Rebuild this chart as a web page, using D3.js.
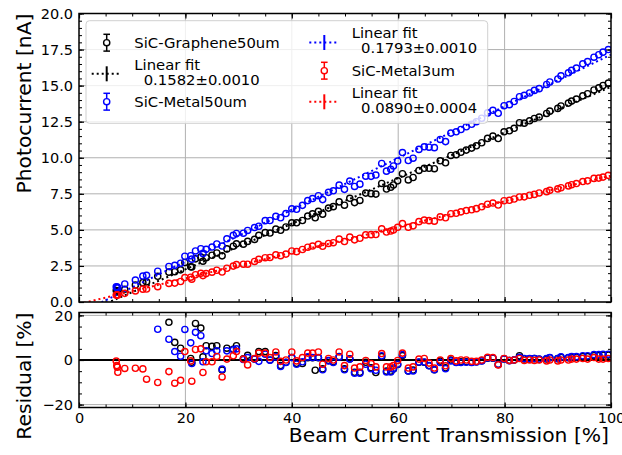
<!DOCTYPE html>
<html>
<head>
<meta charset="utf-8">
<script src="https://cdn.jsdelivr.net/npm/d3@7"></script>
<style>
  body { margin: 0; background: #fff; }
  text { font-family: "DejaVu Sans", sans-serif; fill: #000; }
</style>
</head>
<body>
<div id="chart"></div>
<script>
// beam current transmission [%]
const transmission = [7.0, 7.1, 7.2, 7.3, 8.6, 10.6, 12.0, 12.7, 14.8, 16.9, 18.0, 19.1, 19.9, 21.0, 21.2, 21.9, 22.9, 23.3, 23.9,
  25.0, 25.9, 26.9, 27.8, 29.0, 29.6, 30.9, 31.7, 33.0, 33.8, 35.0, 35.9, 37.0, 37.9, 38.9, 40.0, 40.9, 42.0, 43.0, 43.9, 44.4,
  45.0, 45.8, 46.9, 47.8, 48.9, 49.9, 50.9, 51.8, 52.8, 53.9, 54.9, 55.8, 56.9, 57.8, 58.6, 59.1, 59.9, 60.8, 61.9, 62.8, 63.9,
  64.9, 65.8, 66.8, 67.9, 68.9, 69.9, 70.9, 71.8, 72.8, 73.8, 74.7, 75.7, 76.8, 77.8, 78.8, 79.9, 80.9, 81.8, 82.8, 83.7, 84.7,
  85.6, 86.5, 87.9, 88.5, 90.0, 90.6, 92.0, 92.6, 93.5, 94.7, 95.6, 96.8, 97.7, 98.5, 99.5];

// photocurrent [nA]
const graphene50 = [0.80, 0.74, 0.78, 0.70, 0.88, 1.18, 1.34, 1.40, 1.78, 2.07, 2.10, 2.23, 2.74, 2.44, 2.43, 2.99, 3.11, 2.83, 3.07,
  3.24, 3.40, 3.20, 3.68, 3.87, 4.03, 4.01, 4.20, 4.34, 4.62, 4.81, 4.78, 5.05, 4.97, 5.20, 5.49, 5.49, 5.65, 5.96, 6.11, 5.84,
  6.28, 6.09, 6.51, 6.61, 6.94, 6.71, 7.19, 6.89, 7.04, 7.55, 7.51, 7.48, 8.22, 7.83, 7.95, 8.11, 8.40, 8.89, 8.46, 8.63, 9.12,
  9.27, 9.27, 9.24, 9.79, 9.65, 10.16, 10.21, 10.38, 10.53, 10.67, 10.83, 11.04, 11.34, 11.50, 11.33, 11.80, 11.87, 12.04, 12.43, 12.40, 12.56,
  12.72, 12.82, 13.07, 13.23, 13.42, 13.59, 13.79, 13.93, 14.07, 14.29, 14.44, 14.70, 14.85, 15.01, 15.17];
const metal50 = [1.06, 1.00, 1.03, 0.97, 1.25, 1.52, 1.80, 1.85, 2.13, 2.46, 2.54, 2.69, 3.17, 3.21, 2.97, 3.54, 3.69, 3.37, 3.65,
  3.81, 4.02, 3.88, 4.38, 4.62, 4.75, 4.77, 4.96, 5.16, 5.25, 5.64, 5.65, 5.94, 5.84, 6.13, 6.46, 6.43, 6.70, 7.03, 7.17, null,
  7.37, 7.10, 7.60, 7.71, 8.10, 7.81, 8.38, 8.01, 8.17, 8.72, 8.71, 8.80, 9.60, 9.07, 9.20, 9.43, 9.77, 10.36, 9.81, 9.97, 10.58,
  10.76, 10.73, 10.70, 11.27, 11.12, 11.71, 11.80, 11.96, 12.15, 12.32, 12.50, 12.74, 13.11, 13.29, 13.08, 13.61, 13.68, 13.90, 14.23, 14.33, 14.49,
  14.67, 14.79, 15.08, 15.25, 15.46, 15.68, 15.89, 16.06, 16.22, 16.51, 16.67, 16.97, 17.14, 17.32, 17.50];
const metal3 = [0.48, 0.48, 0.49, 0.48, 0.60, 0.77, 0.89, 0.90, 1.06, 1.29, 1.31, 1.42, 1.69, 1.72, 1.58, 1.89, 1.99, 1.83, 1.97,
  2.07, 2.20, 2.08, 2.34, 2.49, 2.59, 2.62, 2.62, 2.81, 2.96, 3.07, 3.09, 3.27, 3.21, 3.32, 3.54, 3.49, 3.64, 3.80, 3.88, null,
  4.00, 3.86, 4.06, 4.11, 4.36, 4.19, 4.50, 4.31, 4.42, 4.65, 4.67, 4.68, 5.07, 4.85, 4.92, 4.99, 5.18, 5.43, 5.18, 5.28, 5.57,
  5.68, 5.64, 5.60, 5.90, 5.84, 6.12, 6.15, 6.25, 6.34, 6.39, 6.47, 6.60, 6.78, 6.86, 6.72, 7.02, 7.05, 7.14, 7.28, 7.29, 7.40,
  7.46, 7.56, 7.65, 7.74, 7.84, 7.92, 8.05, 8.13, 8.21, 8.35, 8.40, 8.57, 8.59, 8.66, 8.78];

// residuals [%] (null = off the panel)
const resGraphene50 = [null, null, null, null, null, null, null, null, null, 16.9, 7.9, 5.3, null, 0.7, -1.0, 16.4, 14.3, 1.4, 6.4,
  6.1, 6.4, -4.5, 5.3, 4.8, 6.4, 0.5, 2.1, 0.5, 3.8, 3.8, 0.0, 2.0, -2.5, -1.0, 1.1, -1.5, -1.6, 1.0, 1.0, -4.6,
  1.0, -4.0, -0.2, -0.8, 1.5, -4.0, 0.5, -5.5, -5.5, -1.0, -3.5, -5.6, 1.5, -5.0, -5.0, -4.0, -2.0, 2.0, -4.9, -4.5, -1.0,
  -1.0, -2.5, -4.4, -0.5, -3.5, 0.0, -1.0, -0.8, -0.8, -1.0, -0.8, -0.3, 0.8, 0.8, -2.0, 0.5, -0.2, 0.0, 1.9, 0.5, 0.5,
  0.6, 0.3, 0.5, 1.0, 0.6, 1.2, 1.0, 1.3, 1.3, 1.5, 1.5, 2.0, 2.0, 2.2, 2.2];
const resMetal50 = [null, null, null, null, null, null, null, null, 13.8, 9.3, 3.8, 1.7, 13.7, 7.7, -1.6, 12.4, 10.9, -0.8, 4.1,
  2.9, 4.1, -4.1, 4.1, 4.6, 5.0, 0.2, 1.1, 0.4, -0.6, 2.6, -0.1, 1.4, -2.9, -1.1, 1.1, -1.9, -0.8, 1.4, 1.1, null,
  1.1, -4.4, -0.4, -1.1, 1.4, -4.4, 0.4, -5.9, -5.9, -1.9, -3.9, -4.6, 1.9, -5.4, -5.4, -3.9, -1.9, 2.4, -4.9, -4.9, -0.9,
  -0.9, -2.6, -4.4, -1.1, -3.9, -0.4, -1.1, -1.1, -1.0, -1.1, -0.9, -0.4, 0.9, 0.9, -2.0, 0.5, -0.3, 0.1, 1.2, 0.7, 0.6,
  0.7, 0.4, 0.7, 1.1, 0.7, 1.4, 1.1, 1.5, 1.5, 1.9, 1.9, 2.4, 2.4, 2.6, 2.6];
const resMetal3 = [-0.5, -2.5, -3.2, -5.5, -3.8, -3.7, -4.0, -8.6, -10.1, -5.2, -10.4, -9.1, 3.8, -0.4, -9.5, 4.7, 5.0, -5.6, -0.8,
  -0.8, 1.6, -7.6, 0.4, 1.9, 3.8, 0.4, -2.2, 0.6, 3.1, 3.1, 1.1, 3.6, -0.6, 0.0, 3.6, -0.4, 1.1, 3.1, 3.1, null,
  3.6, -1.9, 0.7, 0.0, 3.6, -2.5, 2.6, -3.6, -3.1, -0.2, -1.6, -3.1, 2.9, -3.1, -3.1, -2.5, -0.2, 3.1, -3.6, -3.1, 0.4,
  0.7, -1.4, -3.6, 0.0, -2.6, 0.7, -0.4, 0.0, 0.0, -0.6, -0.6, 0.0, 1.2, 1.1, -2.2, 0.7, -0.2, 0.0, 0.7, -0.2, 0.0,
  -0.2, 0.0, -0.4, 0.0, -0.4, 0.0, 0.0, 0.4, 0.4, 0.7, 0.4, 1.1, 0.4, 0.4, 0.7];

// linear fits
const seriesNames = ["SiC-Graphene50um", "SiC-Metal50um", "SiC-Metal3um"];
const seriesColors = ["#000000", "#0000ff", "#ff0000"];
const fitSlope = [0.1582, 0.1793, 0.0890];
const fitSlopeErr = [0.0010, 0.0010, 0.0004];
const fitIntercept = [-0.90, -0.78, -0.14];

const xTicks = [0, 20, 40, 60, 80, 100];
const yTicks = [0, 2.5, 5, 7.5, 10, 12.5, 15, 17.5, 20];
const resTicks = [-20, 0, 20];

const W = 622, H = 455;
const L = 79, R = 611;
const svg = d3.select("#chart").append("svg").attr("width", W).attr("height", H);

const x = d3.scaleLinear().domain([0, 100]).range([L, R]);
const yMain = d3.scaleLinear().domain([0, 20]).range([302, 13.5]);
const yRes = d3.scaleLinear().domain([-21.3, 21.3]).range([407.5, 312.5]);

const photo = [graphene50, metal50, metal3];
const resid = [resGraphene50, resMetal50, resMetal3];

const defs = svg.append("defs");
defs.append("clipPath").attr("id", "clipMain").append("rect")
  .attr("x", L).attr("y", yMain(20)).attr("width", R - L).attr("height", yMain(0) - yMain(20));
defs.append("clipPath").attr("id", "clipRes").append("rect")
  .attr("x", L).attr("y", yRes(21.3)).attr("width", R - L).attr("height", yRes(-21.3) - yRes(21.3));

// panel: grid, inward ticks on all four sides
function panel(y, majorY, minorY, showX) {
  const g = svg.append("g");
  const top = y.range()[1], bot = y.range()[0];
  g.selectAll(".gx").data(xTicks.slice(1, -1)).join("line")
    .attr("x1", d => x(d)).attr("x2", d => x(d)).attr("y1", top).attr("y2", bot)
    .attr("stroke", "#b0b0b0").attr("stroke-width", 1);
  g.selectAll(".gy").data(majorY).join("line")
    .attr("x1", L).attr("x2", R).attr("y1", d => y(d)).attr("y2", d => y(d))
    .attr("stroke", "#b0b0b0").attr("stroke-width", 1);

  const fmtY = y === yMain ? d3.format(".1f") : d3.format("d");
  const axes = [
    [d3.axisBottom(x), `translate(0,${bot})`, xTicks, d3.range(0, 101, 5), showX ? d3.format("d") : "", 5],
    [d3.axisTop(x), `translate(0,${top})`, xTicks, d3.range(0, 101, 5), "", 6],
    [d3.axisLeft(y), `translate(${L},0)`, majorY, minorY, fmtY, 6],
    [d3.axisRight(y), `translate(${R},0)`, majorY, minorY, "", 6]
  ];
  axes.forEach(([ax, tr, maj, min, fmt, pad]) => {
    g.append("g").attr("transform", tr)
      .call(ax.tickValues(min).tickSize(-3).tickFormat(""))
      .call(s => s.select(".domain").remove())
      .call(s => s.selectAll("line").attr("stroke-width", 1));
    g.append("g").attr("transform", tr)
      .call(ax.tickValues(maj).tickSize(-5).tickPadding(pad).tickFormat(fmt === "" ? () => "" : fmt))
      .call(s => s.select(".domain").remove())
      .call(s => s.selectAll("line").attr("stroke-width", 1.2))
      .call(s => s.selectAll("text").attr("font-size", 14.5).attr("font-family", "DejaVu Sans"));
  });
  return g;
}

panel(yMain, yTicks, d3.range(0, 20.01, 0.5), false);
panel(yRes, resTicks, d3.range(-20, 21, 5), true);

// zero line in residual panel
svg.append("line")
  .attr("x1", L).attr("x2", R).attr("y1", yRes(0)).attr("y2", yRes(0))
  .attr("stroke", "#000").attr("stroke-width", 2);

// data points and fit lines
const gMain = svg.append("g").attr("clip-path", "url(#clipMain)");
const gRes = svg.append("g").attr("clip-path", "url(#clipRes)");

seriesNames.forEach((name, k) => {
  const pts = transmission.map((t, i) => [t, photo[k][i]]).filter(d => d[1] != null);
  gMain.append("g").selectAll("circle").data(pts).join("circle")
    .attr("cx", d => x(d[0])).attr("cy", d => yMain(d[1])).attr("r", 3.1)
    .attr("fill", "none").attr("stroke", seriesColors[k]).attr("stroke-width", 1.4);
  const line = d3.line().x(d => x(d)).y(d => yMain(fitSlope[k] * d + fitIntercept[k]));
  gMain.append("path").attr("d", line([0, 100]))
    .attr("fill", "none").attr("stroke", seriesColors[k]).attr("stroke-width", 2)
    .attr("stroke-dasharray", "2,3");

  const rp = transmission.map((t, i) => [t, resid[k][i]]).filter(d => d[1] != null);
  gRes.append("g").selectAll("circle").data(rp).join("circle")
    .attr("cx", d => x(d[0])).attr("cy", d => yRes(d[1])).attr("r", 3.1)
    .attr("fill", "none").attr("stroke", seriesColors[k]).attr("stroke-width", 1.4);
});

// frames
[yMain, yRes].forEach(y => {
  svg.append("rect")
    .attr("x", L).attr("y", y.range()[1]).attr("width", R - L).attr("height", y.range()[0] - y.range()[1])
    .attr("fill", "none").attr("stroke", "#000").attr("stroke-width", 1.5);
});

// axis labels
svg.append("text")
  .attr("transform", `translate(31,${yMain(20)}) rotate(-90)`)
  .attr("text-anchor", "end").attr("font-size", 20.3)
  .text("Photocurrent [nA]");
svg.append("text")
  .attr("transform", `translate(31,${yRes(21.3)}) rotate(-90)`)
  .attr("text-anchor", "end").attr("font-size", 20.3)
  .text("Residual [%]");
svg.append("text")
  .attr("x", R - 2).attr("y", 442)
  .attr("text-anchor", "end").attr("font-size", 20.3)
  .text("Beam Current Transmission [%]");

// legend (two columns)
const legend = svg.append("g");
legend.append("rect")
  .attr("x", 86).attr("y", 20.7).attr("width", 401.7).attr("height", 102.6).attr("rx", 3.5)
  .attr("fill", "#fff").attr("fill-opacity", 0.8).attr("stroke", "#d0d0d0").attr("stroke-width", 1);

const fitLabel = k => ["Linear fit", "  " + fitSlope[k].toFixed(4) + "±" + fitSlopeErr[k].toFixed(4)];
const entries = [
  { kind: "data", k: 0, lines: [seriesNames[0]] },
  { kind: "fit", k: 0, lines: fitLabel(0) },
  { kind: "data", k: 1, lines: [seriesNames[1]] },
  { kind: "fit", k: 1, lines: fitLabel(1) },
  { kind: "data", k: 2, lines: [seriesNames[2]] },
  { kind: "fit", k: 2, lines: fitLabel(2) }
];
const colHandleX = [106.7, 324.3], colTextX = [134.3, 351.7];
const rowCenters = [[42.7, 71.8, 101.7], [40.5, 70.7, 99.8]];

entries.forEach((e, i) => {
  const col = Math.floor(i / 3), row = i % 3;
  const cy = rowCenters[col][row];
  const hx = colHandleX[col];
  const c = seriesColors[e.k];
  const g = legend.append("g");
  if (e.kind === "data") {
    g.append("line").attr("x1", hx).attr("x2", hx).attr("y1", cy - 8.4).attr("y2", cy + 8.4)
      .attr("stroke", c).attr("stroke-width", 1.5);
    [cy - 8.4, cy + 8.4].forEach(yy => g.append("line")
      .attr("x1", hx - 3.3).attr("x2", hx + 3.3).attr("y1", yy).attr("y2", yy)
      .attr("stroke", c).attr("stroke-width", 1.5));
    g.append("circle").attr("cx", hx).attr("cy", cy).attr("r", 3.1)
      .attr("fill", "#fff").attr("stroke", c).attr("stroke-width", 1.4);
  } else {
    const hy = cy + 2;
    g.append("line").attr("x1", hx - 15).attr("x2", hx + 15).attr("y1", hy).attr("y2", hy)
      .attr("stroke", c).attr("stroke-width", 2).attr("stroke-dasharray", "2,3");
    g.append("line").attr("x1", hx).attr("x2", hx).attr("y1", hy - 7.5).attr("y2", hy + 7.5)
      .attr("stroke", c).attr("stroke-width", 2);
  }
  const n = e.lines.length;
  e.lines.forEach((t, j) => {
    g.append("text")
      .attr("x", colTextX[col]).attr("y", cy + (j - (n - 1) / 2) * 15)
      .attr("dy", "0.36em").attr("font-size", 14.8)
      .style("white-space", "pre")
      .text(t);
  });
});
</script>
</body>
</html>
